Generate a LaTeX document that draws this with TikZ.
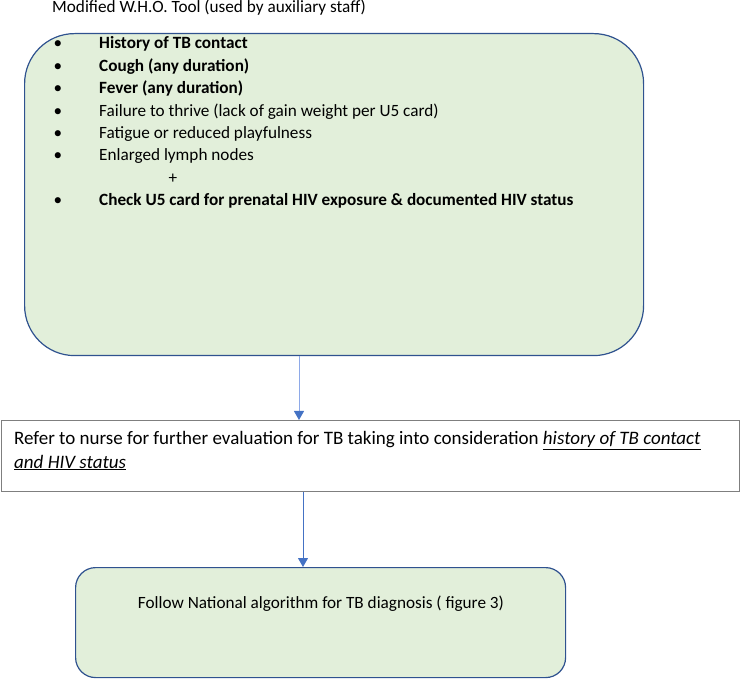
\documentclass[tikz,border=0pt]{standalone}
\usepackage{fontspec}
\setmainfont{Carlito}
\usetikzlibrary{arrows.meta}
\definecolor{boxfill}{HTML}{E2EFDA}
\definecolor{boxline}{HTML}{2F528F}
\definecolor{greyline}{HTML}{7F7F7F}
\definecolor{arrowblue}{HTML}{4472C4}
\definecolor{arrowlight}{HTML}{8EA9E8}
\tikzset{
  roundbox/.style={draw=boxline, fill=boxfill, line width=1.2pt, inner sep=0pt},
  plainbox/.style={draw=greyline, fill=white, line width=1.2pt, inner sep=0pt},
  txt/.style={anchor=base west, inner sep=0pt, font=\fontsize{17.2}{20}\selectfont},
  bul/.style={anchor=base, inner sep=0pt, font=\fontsize{17.2}{20}\selectfont},
  midtxt/.style={anchor=base west, inner sep=0pt, font=\fontsize{19}{22}\selectfont},
  conn/.style={line width=1pt, -{Triangle[width=10pt,length=9pt,color=arrowblue]}},
}
\begin{document}
\begin{tikzpicture}[x=1pt,y=-1pt]
\useasboundingbox (0,0) rectangle (740,679);
% boxes
\node[roundbox, rounded corners=50pt, minimum width=619pt, minimum height=322pt, anchor=north west] (who) at (24,33) {};
\node[plainbox, minimum width=738pt, minimum height=71pt, anchor=north west] (refer) at (1,420) {};
\node[roundbox, rounded corners=20pt, minimum width=490pt, minimum height=110pt, anchor=north west] (follow) at (75,567) {};
% title
\node[txt] (title) at (52,13) {Modified W.H.O. Tool (used by auxiliary staff)};
% bullet list
\foreach \i/\yy in {1/49,2/71.4,3/93.8,4/116.2,5/138.6,6/161,8/205.8}
  \node[bul] (b\i) at (58,\yy) {\textbullet};
\node[txt] (l1) at (99,49) {\textbf{History of TB contact}};
\node[txt] (l2) at (99,71.4) {\textbf{Cough (any duration)}};
\node[txt] (l3) at (99,93.8) {\textbf{Fever (any duration)}};
\node[txt] (l4) at (99,116.2) {Failure to thrive (lack of gain weight per U5 card)};
\node[txt] (l5) at (99,138.6) {Fatigue or reduced playfulness};
\node[txt] (l6) at (99,161) {Enlarged lymph nodes};
\node[bul] (plus) at (173,183.4) {+};
\node[txt] (l8) at (99,205.8) {\textbf{Check U5 card for prenatal HIV exposure \& documented HIV status}};
% middle text
\node[midtxt] (r1) at (14,445) {Refer to nurse for further evaluation for TB taking into consideration \underline{\textit{history of TB contact}}};
\node[midtxt] (r2) at (14,468) {\underline{\textit{and HIV status}}};
% bottom text
\node[txt, anchor=base] (f1) at (321,608) {Follow National algorithm for TB diagnosis ( figure 3)};
% connectors
\coordinate (c1) at (299,0);
\coordinate (c2) at (303,0);
\draw[conn, draw=arrowlight] (c1 |- who.south) -- (c1 |- refer.north);
\draw[conn, draw=arrowblue] (c2 |- refer.south) -- (c2 |- follow.north);
\end{tikzpicture}
\end{document}
